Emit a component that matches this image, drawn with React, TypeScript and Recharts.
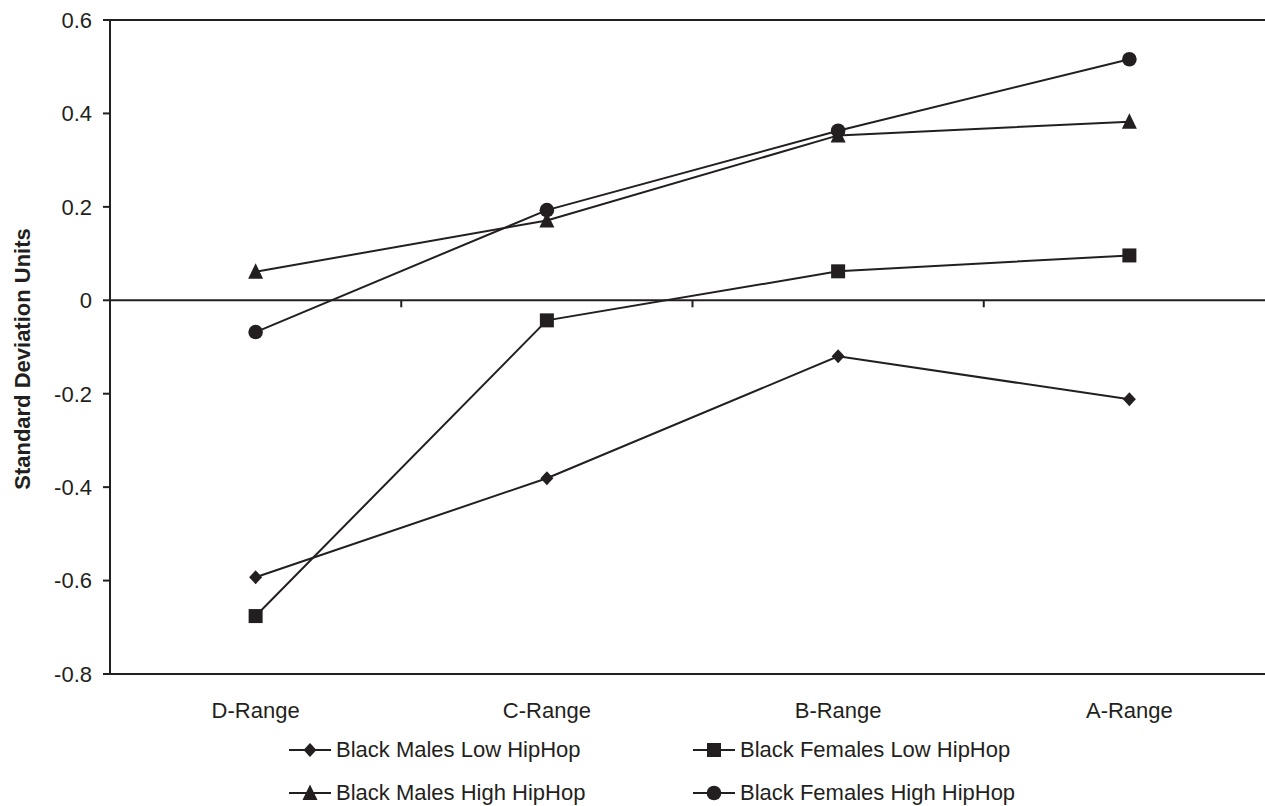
import React from 'react';
import { LineChart, Line, XAxis, YAxis, ReferenceLine, Legend, Label } from 'recharts';

const categories = ['D-Range', 'C-Range', 'B-Range', 'A-Range'];
const malesLow = [-0.593, -0.381, -0.12, -0.212];
const femalesLow = [-0.676, -0.043, 0.062, 0.096];
const malesHigh = [0.061, 0.171, 0.353, 0.382];
const femalesHigh = [-0.068, 0.193, 0.363, 0.516];
const yTicks = [-0.8, -0.6, -0.4, -0.2, 0, 0.2, 0.4, 0.6];

const seriesList = [
  { key: 'malesLow', name: 'Black Males Low HipHop', shape: 'diamond' },
  { key: 'femalesLow', name: 'Black Females Low HipHop', shape: 'square' },
  { key: 'malesHigh', name: 'Black Males High HipHop', shape: 'triangle' },
  { key: 'femalesHigh', name: 'Black Females High HipHop', shape: 'circle' },
];

const data = categories.map((c, i) => ({
  cat: c,
  malesLow: malesLow[i],
  femalesLow: femalesLow[i],
  malesHigh: malesHigh[i],
  femalesHigh: femalesHigh[i],
}));

const INK = '#231f20';
const FONT = "'Liberation Sans', Arial, Helvetica, sans-serif";

function markerEl(shape: string, cx: number, cy: number, key?: string) {
  switch (shape) {
    case 'diamond':
      return <polygon key={key} points={`${cx},${cy - 7} ${cx + 6.5},${cy} ${cx},${cy + 7} ${cx - 6.5},${cy}`} fill={INK} />;
    case 'square':
      return <rect key={key} x={cx - 7} y={cy - 7} width={14} height={14} fill={INK} />;
    case 'triangle':
      return <polygon key={key} points={`${cx},${cy - 8.5} ${cx + 7.5},${cy + 7} ${cx - 7.5},${cy + 7}`} fill={INK} />;
    default:
      return <circle key={key} cx={cx} cy={cy} r={7.3} fill={INK} />;
  }
}

const makeDot = (shape: string) => (props: any) => {
  const { cx, cy, index } = props;
  if (cx == null || cy == null) return <g key={`${shape}-${index}`} />;
  return markerEl(shape, cx, cy, `${shape}-${index}`);
};

const zeroLineShape = (props: any) => {
  const { x1, y1, x2, y2 } = props;
  const plotLeft = Math.min(x1, x2);
  const plotRight = Math.max(x1, x2);
  const band = (plotRight - plotLeft) / categories.length;
  return (
    <g>
      <line x1={x1} y1={y1} x2={x2} y2={y2} stroke={INK} strokeWidth={2} />
      {categories.slice(1).map((_, k) => (
        <line key={k} x1={plotLeft + band * (k + 1)} x2={plotLeft + band * (k + 1)} y1={y1} y2={y1 + 7} stroke={INK} strokeWidth={2} />
      ))}
    </g>
  );
};

const yLabelContent = (props: any) => {
  const vb = props.viewBox || { x: 0, y: 20, width: 110, height: 654 };
  const x = vb.x + 22;
  const y = vb.y + vb.height / 2 + 12;
  return (
    <text x={x} y={y} transform={`rotate(-90 ${x} ${y})`} textAnchor="middle" dominantBaseline="central"
      fontFamily={FONT} fontSize={22} fontWeight="bold" fill={INK}>
      Standard Deviation Units
    </text>
  );
};

const legendContent = () => (
  <div style={{ display: 'grid', gridTemplateColumns: '404px 404px', fontFamily: FONT, fontSize: 22, color: INK }}>
    {seriesList.map((s) => (
      <div key={s.key} style={{ display: 'flex', alignItems: 'center', height: 43 }}>
        <svg width={42} height={20} style={{ display: 'block' }}>
          <line x1={0} y1={10} x2={42} y2={10} stroke={INK} strokeWidth={2} />
          {markerEl(s.shape, 21, 10)}
        </svg>
        <span style={{ marginLeft: 5, whiteSpace: 'nowrap' }}>{s.name}</span>
      </div>
    ))}
  </div>
);

export default function App() {
  return (
    <div style={{ position: 'absolute', left: 0, top: 0, width: 1265, height: 806, overflow: 'hidden', background: '#fff' }}>
      <LineChart width={1280} height={806} data={data} margin={{ top: 20, right: 5, left: 0, bottom: 72 }}>
        <XAxis dataKey="cat" scale="band" height={60} tickLine={false} tickSize={6} tickMargin={22}
          axisLine={{ stroke: INK, strokeWidth: 2 }}
          tick={{ fill: INK, fontSize: 22, fontFamily: FONT }} />
        <YAxis width={110} domain={[-0.8, 0.6]} ticks={yTicks} interval={0} allowDataOverflow
          tickFormatter={(v: number) => (Math.abs(v) < 1e-9 ? '0' : v.toFixed(1))}
          tickSize={7} tickMargin={11}
          tickLine={{ stroke: INK, strokeWidth: 2 }}
          axisLine={{ stroke: INK, strokeWidth: 2 }}
          tick={{ fill: INK, fontSize: 22, fontFamily: FONT }}>
          <Label content={yLabelContent} />
        </YAxis>
        <ReferenceLine y={0.6} stroke={INK} strokeWidth={2} />
        <ReferenceLine y={0} shape={zeroLineShape} />
        {seriesList.map((s) => (
          <Line key={s.key} dataKey={s.key} name={s.name} stroke={INK} strokeWidth={2}
            dot={makeDot(s.shape)} activeDot={false} isAnimationActive={false} />
        ))}
        <Legend layout="horizontal" verticalAlign="middle" align="center" content={legendContent}
          wrapperStyle={{ top: 728, left: 289, width: 820, height: 90 }} />
      </LineChart>
    </div>
  );
}
